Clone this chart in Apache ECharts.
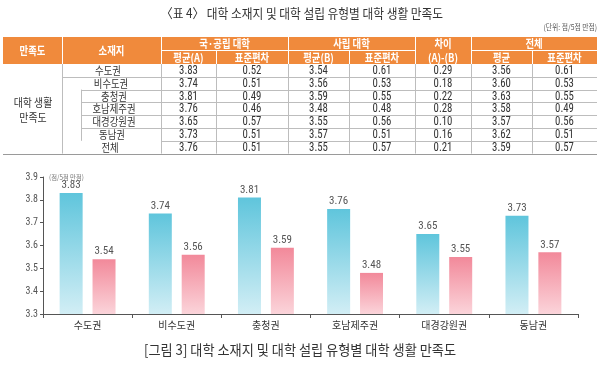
<!DOCTYPE html>
<html><head><meta charset="utf-8">
<script src="https://cdn.jsdelivr.net/npm/echarts@6/dist/echarts.min.js"></script>
<style>html,body{margin:0;padding:0;background:#fff}#c{width:600px;height:369px}</style>
</head><body><div id="c"></div>
<script>
// ---- data ----
const regions = ['수도권','비수도권','충청권','호남제주권','대경강원권','동남권','전체'];
const pubMean = [3.83,3.74,3.81,3.76,3.65,3.73,3.76];
const pubSd   = [0.52,0.51,0.49,0.46,0.57,0.51,0.51];
const priMean = [3.54,3.56,3.59,3.48,3.55,3.57,3.55];
const priSd   = [0.61,0.53,0.55,0.48,0.56,0.51,0.57];
const diffAB  = [0.29,0.18,0.22,0.28,0.10,0.16,0.21];
const totMean = [3.56,3.60,3.63,3.58,3.57,3.62,3.59];
const totSd   = [0.61,0.53,0.55,0.49,0.56,0.51,0.57];
const chartCats = ['수도권','비수도권','충청권','호남제주권','대경강원권','동남권'];
const chartPub = [3.83,3.74,3.81,3.76,3.65,3.73];
const chartPri = [3.54,3.56,3.59,3.48,3.55,3.57];
const yTicks = [3.3,3.4,3.5,3.6,3.7,3.8,3.9];
const titleText = '〈표 4〉 대학 소재지 및 대학 설립 유형별 대학 생활 만족도';
const captionText = '[그림 3] 대학 소재지 및 대학 설립 유형별 대학 생활 만족도';
const unitText = '(단위: 점/5점 만점)';
const chartUnitText = '(점/5점 만점)';
const rowGroupLabel = ['대학 생활','만족도'];
const headTop = ['만족도','소재지','국·공립 대학','사립 대학','차이','전체'];
const headSub = ['평균(A)','표준편차','평균(B)','표준편차','(A)-(B)','평균','표준편차'];

// ---- layout ----
const KR = "'Noto Sans CJK KR','Noto Sans',sans-serif";
const NUM = "'Roboto Condensed','Liberation Sans Narrow','DejaVu Sans Condensed',Roboto,sans-serif";
const colB = [3,62,161,216,288,349,415,471,532,597];
const hTop = 37, hMid = 50.5, hBot = 64, rowH = 12.8;
const tBot = hBot + rowH*regions.length;
const G = [];
function txt(x,y,s,o){
  o = o||{};
  return {type:'text', x:x, y:y, scaleX:o.sx||1, silent:true, z:10,
    style:{text:s, x:0, y:0, align:o.align||'center', verticalAlign:'middle',
      fill:o.fill||'#333', fontSize:o.size||11, fontFamily:o.font||KR, fontWeight:o.weight||'normal'}};
}
function line(x1,y1,x2,y2,c,w){
  return {type:'line', silent:true, z:5, shape:{x1:x1,y1:y1,x2:x2,y2:y2}, style:{stroke:c, lineWidth:w||1}};
}
// titles
G.push(txt(302,13,titleText,{size:13,sx:0.9,fill:'#333'}));
G.push(txt(597,27,unitText,{size:8,sx:0.85,align:'right',fill:'#555'}));
G.push(txt(300,350,captionText,{size:14,sx:0.94,fill:'#333'}));
G.push(txt(49,177,chartUnitText,{size:7,sx:0.9,align:'left',fill:'#777'}));
// header
G.push({type:'rect', silent:true, z:4, shape:{x:colB[0],y:hTop,width:colB[9]-colB[0],height:hBot-hTop}, style:{fill:'#f08a3c'}});
[62,161,288,415,471].forEach(x=>G.push(line(x+0.5,hTop,x+0.5,hBot,'#fff',1)));
[216,349,532].forEach(x=>G.push(line(x+0.5,hMid,x+0.5,hBot,'#fff',1)));
G.push(line(161,hMid,415,hMid,'#fff',1));
G.push(line(471,hMid,597,hMid,'#fff',1));
const hs = {fill:'#fff',size:11,weight:'bold',sx:0.85};
const hy1 = (hTop+hMid)/2+0.5, hy2 = (hMid+hBot)/2+0.5;
G.push(txt((colB[0]+colB[1])/2,(hTop+hBot)/2,headTop[0],hs));
G.push(txt((colB[1]+colB[2])/2,(hTop+hBot)/2,headTop[1],hs));
G.push(txt((colB[2]+colB[4])/2,hy1,headTop[2],hs));
G.push(txt((colB[4]+colB[6])/2,hy1,headTop[3],hs));
G.push(txt((colB[6]+colB[7])/2,hy1,headTop[4],hs));
G.push(txt((colB[7]+colB[9])/2,hy1,headTop[5],hs));
headSub.forEach((s,i)=>G.push(txt((colB[i+2]+colB[i+3])/2,hy2,s,hs)));
// body
const cols = [pubMean,pubSd,priMean,priSd,diffAB,totMean,totSd];
const regX = [108,111,114,114,114,112,110];
regions.forEach((r,i)=>{
  const yc = hBot + rowH*i + rowH/2 + 0.5;
  G.push(txt(regX[i],yc,r,{size:11,sx:0.85}));
  cols.forEach((arr,j)=>{
    G.push(txt((colB[j+2]+colB[j+3])/2,yc,arr[i].toFixed(2),{size:12,font:NUM,sx:0.9}));
  });
  if(i < regions.length-1){
    const yl = Math.round(hBot + rowH*(i+1))+0.5;
    let x0 = 161;
    if(i===0) x0 = 62; else if(i>=1 && i<=4) x0 = 81;
    G.push(line(x0,yl,597,yl,'#bdbdbd',1));
  }
});
[62,161,216,288,349,415,471,532].forEach(x=>G.push(line(x+0.5,hBot,x+0.5,tBot,'#bdbdbd',1)));
G.push(line(81.5,hBot+rowH*2,81.5,hBot+rowH*6,'#bdbdbd',1));
G.push(line(3,Math.round(tBot)+0.5,597,Math.round(tBot)+0.5,'#9a9a9a',1.2));
G.push(txt(33,102.5,rowGroupLabel[0],{size:11,sx:0.9}));
G.push(txt(33,117.5,rowGroupLabel[1],{size:11,sx:0.9}));

const grad = (a,b)=>new echarts.graphic.LinearGradient(0,0,0,1,[{offset:0,color:a},{offset:1,color:b}]);
const chart = echarts.init(document.getElementById('c'),null,{renderer:'canvas'});
chart.setOption({
  animation:false,
  grid:{left:43,right:22,top:177,bottom:55},
  xAxis:{type:'category',data:chartCats,
    axisLine:{lineStyle:{color:'#555',width:1}},
    axisTick:{show:true,length:4,lineStyle:{color:'#555'}},
    axisLabel:{color:'#333',fontSize:10,margin:6,fontFamily:KR}},
  yAxis:{type:'value',min:yTicks[0],max:yTicks[yTicks.length-1],interval:0.1,
    axisLine:{show:true,lineStyle:{color:'#555'}},
    axisTick:{show:true,length:3,lineStyle:{color:'#555'}},
    splitLine:{show:false},
    axisLabel:{color:'#555',fontSize:10,margin:5,fontFamily:NUM,formatter:v=>v.toFixed(1)}},
  series:[
    {type:'bar',data:chartPub,barWidth:23,barGap:'43%',
      itemStyle:{color:grad('#5fc5dc','#d2eef5')},
      label:{show:true,position:'top',distance:2,color:'#555',fontSize:11,fontFamily:NUM,formatter:p=>p.value.toFixed(2)}},
    {type:'bar',data:chartPri,barWidth:23,
      itemStyle:{color:grad('#f2899a','#fbd4da')},
      label:{show:true,position:'top',distance:2,color:'#555',fontSize:11,fontFamily:NUM,formatter:p=>p.value.toFixed(2)}}
  ],
  graphic:G
});
</script></body></html>
